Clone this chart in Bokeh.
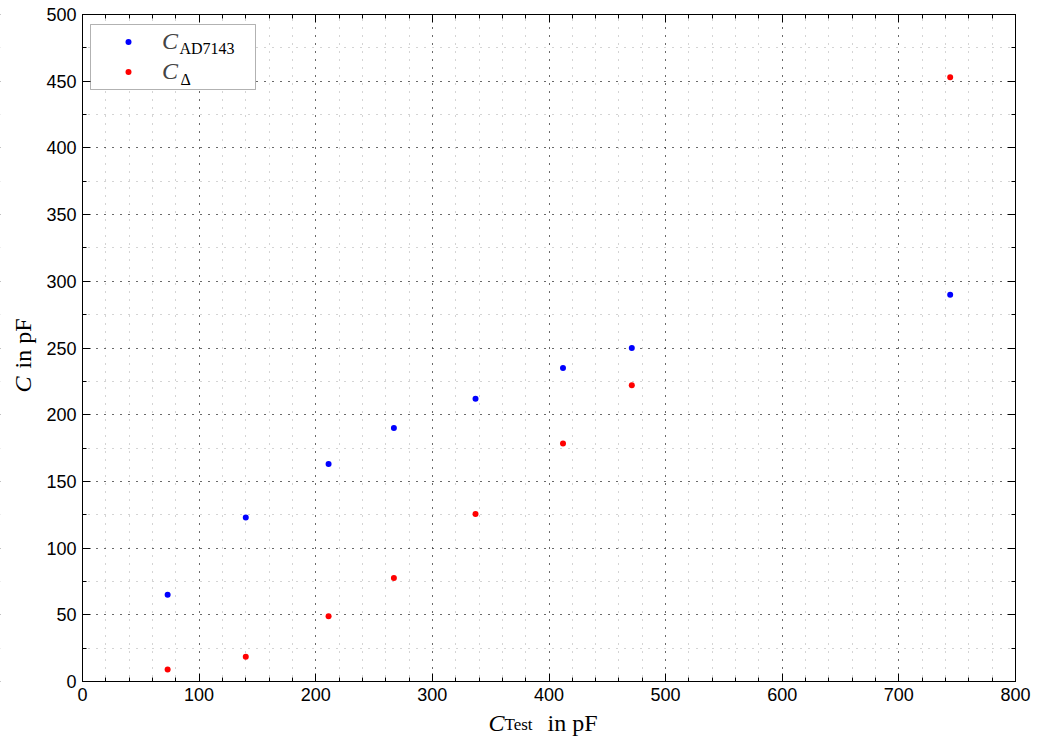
import math
from bokeh.plotting import figure
from bokeh.models import (LinearAxis, SingleIntervalTicker, Range1d, Legend,
                          LegendItem, Label, Grid, BoxAnnotation)
from bokeh.embed import file_html
from bokeh.resources import INLINE

# ---- data ----
c_test = [73, 140, 211, 267, 337, 412, 471, 744]
c_ad7143 = [65, 123, 163, 190, 212, 235, 250, 290]
c_delta = [9, 18.5, 49, 77.5, 125.5, 178.5, 222, 453]

x_limits = (0, 800)
y_limits = (0, 500)
x_major = 100
y_major = 50

# ---- layout (pixels on the canvas) ----
W, H = 1032, 740
FL, FR, FT, FB = 82, 1015, 14, 681   # visible plot box
SHIFT = 8                            # text baseline correction (horizontal text)
SHIFT_ROT = 10                       # text baseline correction (rotated text)

sx = (FR - FL) / (x_limits[1] - x_limits[0])
sy = (FB - FT) / (y_limits[1] - y_limits[0])
x_start = x_limits[0] - FL / sx
x_end = x_limits[1] + (W - FR) / sx
y_end = y_limits[1] + FT / sy
y_start = y_limits[0] - (H - FB) / sy

def px2x(px):
    return x_start + px / sx

def py2y(py):
    return y_end - py / sy

p = figure(width=W, height=H, output_backend="svg", toolbar_location=None,
           x_range=Range1d(x_start, x_end), y_range=Range1d(y_start, y_end),
           x_axis_type=None, y_axis_type=None, min_border=0)
p.outline_line_color = None
p.background_fill_color = "white"
p.border_fill_color = "white"

xt = SingleIntervalTicker(interval=x_major, num_minor_ticks=5)
yt = SingleIntervalTicker(interval=y_major, num_minor_ticks=2)

def make_axis(ticker, loc, bounds, show_labels=True):
    ax = LinearAxis(ticker=ticker, fixed_location=loc, bounds=bounds)
    ax.axis_line_color = "black"
    ax.axis_line_width = 1
    ax.major_tick_line_color = "black"
    ax.minor_tick_line_color = "black"
    ax.major_tick_in = 8
    ax.major_tick_out = 0
    ax.minor_tick_in = 4
    ax.minor_tick_out = 0
    if show_labels:
        ax.major_label_text_font = "Liberation Sans"
        ax.major_label_text_font_size = "18px"
        ax.major_label_text_color = "black"
        ax.major_label_standoff = 6
    else:
        ax.major_label_text_font_size = "1px"
        ax.major_label_text_alpha = 0
        ax.major_label_standoff = 0
    return ax

for dim, tk in ((0, xt), (1, yt)):
    g = Grid(dimension=dim, ticker=tk)
    g.grid_line_color = "black"
    g.grid_line_dash = "1 7"
    g.grid_line_width = 1
    g.minor_grid_line_color = "#a8a8a8"
    g.minor_grid_line_dash = "1 7"
    g.minor_grid_line_width = 1
    p.add_layout(g)

# white masks outside the plot box (hide grid lines there)
for kw in (dict(right=x_limits[0]), dict(left=x_limits[1]),
           dict(top=y_limits[0]), dict(bottom=y_limits[1])):
    p.add_layout(BoxAnnotation(fill_color="white", fill_alpha=1,
                               line_color=None, level="glyph", **kw))

p.add_layout(make_axis(xt, y_limits[0], x_limits), "below")
p.add_layout(make_axis(yt, x_limits[0], y_limits), "left")
p.add_layout(make_axis(xt, y_limits[1], x_limits, False), "above")
p.add_layout(make_axis(yt, x_limits[1], y_limits, False), "right")

r1 = p.scatter(c_test, c_ad7143, size=6, fill_color="#0000ff", line_color=None)
r2 = p.scatter(c_test, c_delta, size=6, fill_color="#ff0000", line_color=None)

# legend box (white, black border) drawn behind a transparent legend
LEG_L, LEG_R, LEG_T, LEG_B = 90, 255, 24, 89
p.add_layout(BoxAnnotation(left=px2x(LEG_L), right=px2x(LEG_R),
                           top=py2y(LEG_T), bottom=py2y(LEG_B),
                           fill_color="white", fill_alpha=1,
                           line_color="black", line_width=1, level="glyph"))

legend = Legend(items=[LegendItem(label="C", renderers=[r1]),
                       LegendItem(label="C", renderers=[r2])],
                location=(LEG_L + 4, H - LEG_B + 4), padding=4, spacing=3,
                glyph_width=68, glyph_height=15, label_width=89, label_height=26,
                label_standoff=0, label_text_font="Liberation Serif",
                label_text_font_style="italic", label_text_font_size="24px",
                border_line_color=None, background_fill_alpha=0)
p.add_layout(legend)

def lab(px, py, text, size, style="normal", angle=0):
    if angle:
        px -= SHIFT_ROT
    else:
        py -= SHIFT
    p.add_layout(Label(x=px2x(px), y=py2y(py), text=text,
                       text_font="Liberation Serif", text_font_size=size,
                       text_font_style=style, text_color="black",
                       text_align="left", text_baseline="alphabetic",
                       angle=angle, level="overlay"))

# legend subscripts
lab(179, 56, "AD7143", "16px")
lab(180, 86.5, "\u0394", "16px")
# x axis label
lab(488, 730, "C", "24px", "italic")
lab(504, 732, "Test", "17px")
lab(547, 730, "in pF", "24px")
# y axis label (rotated)
lab(32, 392, "C", "24px", "italic", math.pi / 2)
lab(32, 368, "in pF", "24px", "normal", math.pi / 2)

open("out.html", "w").write(file_html(p, INLINE))
